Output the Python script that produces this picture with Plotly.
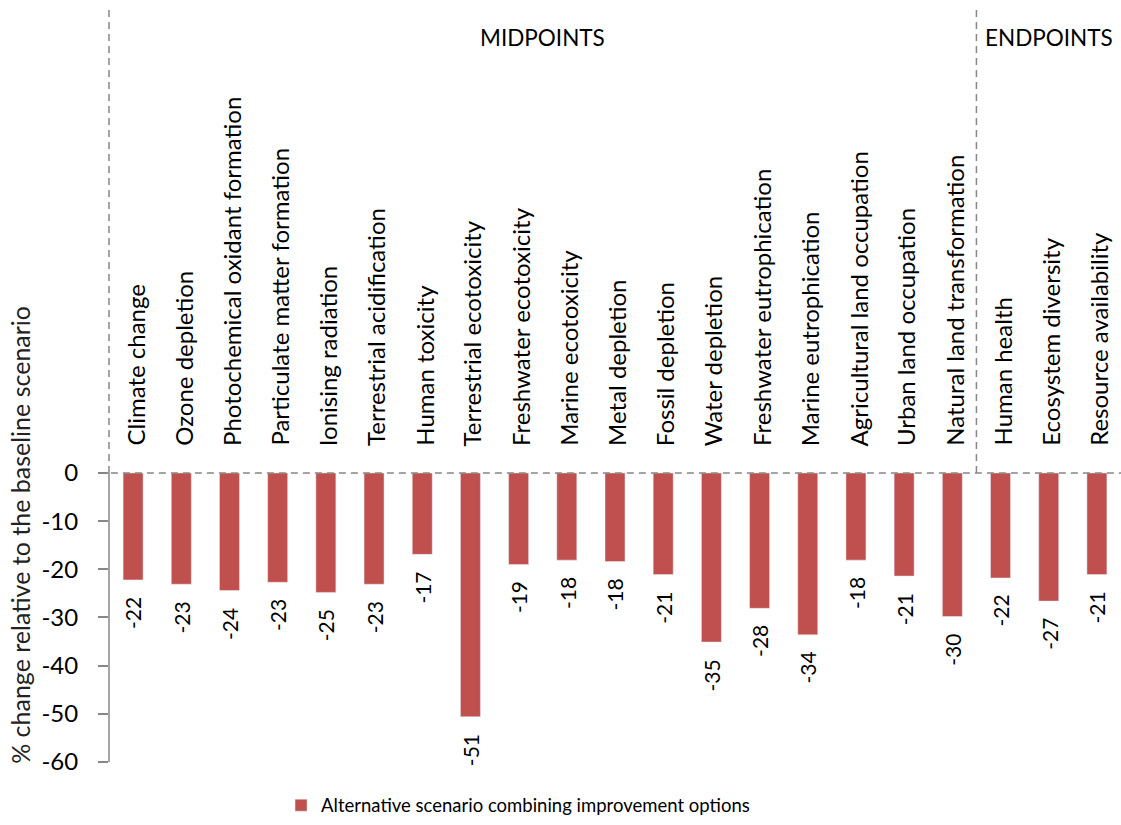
import plotly.graph_objects as go

categories = [
    "Climate change", "Ozone depletion", "Photochemical oxidant formation",
    "Particulate matter formation", "Ionising radiation", "Terrestrial acidification",
    "Human toxicity", "Terrestrial ecotoxicity", "Freshwater ecotoxicity",
    "Marine ecotoxicity", "Metal depletion", "Fossil depletion", "Water depletion",
    "Freshwater eutrophication", "Marine eutrophication", "Agricultural land occupation",
    "Urban land occupation", "Natural land transformation",
    "Human health", "Ecosystem diversity", "Resource availability",
]
values = [-22.2, -23.1, -24.4, -22.7, -24.8, -23.1, -16.9, -50.6, -19.0, -18.1,
          -18.4, -21.1, -35.1, -28.1, -33.6, -18.1, -21.4, -29.8, -21.8, -26.6, -21.1]
series_name = "Alternative scenario combining improvement options"
group_labels = ["MIDPOINTS", "ENDPOINTS"]
y_ticks = [0, -10, -20, -30, -40, -50, -60]
y_title = "% change relative to the baseline scenario"

FONT = "Lato"
BAR = "#C0504D"
GRAY = "#878787"

n = len(categories)
x_idx = list(range(n))
Y_TOP = 96.1
split = 17.5  # boundary between midpoints and endpoints

fig = go.Figure()
fig.add_trace(go.Bar(
    x=x_idx, y=values, name=series_name, marker_color=BAR, width=0.415,
    showlegend=True,
))

annotations = []
for i, (c, v) in enumerate(zip(categories, values)):
    annotations.append(dict(
        x=i, y=0, xref="x", yref="y", text=c, textangle=-90, showarrow=False,
        xanchor="center", yanchor="bottom", yshift=25, xshift=2,
        font=dict(family=FONT, size=24, color="black"),
    ))
    annotations.append(dict(
        x=i, y=v, xref="x", yref="y", text=f"{v:.0f}", textangle=-90, showarrow=False,
        xanchor="center", yanchor="top", yshift=-15,
        font=dict(family=FONT, size=21, color="black"),
    ))

annotations.append(dict(
    x=(-0.5 + split) / 2, y=0.963, xref="x", yref="paper", text=group_labels[0],
    showarrow=False, xanchor="center", yanchor="middle",
    font=dict(family=FONT, size=22.5, color="black"),
))
annotations.append(dict(
    x=(split + n - 0.5) / 2, y=0.963, xref="x", yref="paper", text=group_labels[1],
    showarrow=False, xanchor="center", yanchor="middle",
    font=dict(family=FONT, size=22.5, color="black"),
))
annotations.append(dict(
    x=-0.088, y=0.302, xref="paper", yref="paper", text=y_title, textangle=-90,
    showarrow=False, xanchor="center", yanchor="middle",
    font=dict(family=FONT, size=25, color="#222222"),
))

shapes = [
    # solid y axis line below zero
    dict(type="line", xref="paper", yref="y", x0=0, x1=0, y0=-60, y1=0,
         line=dict(color=GRAY, width=1.5)),
    # dashed y axis line above zero
    dict(type="line", xref="paper", yref="y", x0=0, x1=0, y0=0, y1=Y_TOP,
         line=dict(color=GRAY, width=1.5, dash="7px,5px")),
    # dashed separator between midpoints and endpoints
    dict(type="line", xref="x", yref="y", x0=split, x1=split, y0=0, y1=Y_TOP,
         line=dict(color=GRAY, width=1.5, dash="7px,5px")),
    # dashed zero line
    dict(type="line", xref="paper", yref="y", x0=-0.01, x1=1, y0=0, y1=0,
         line=dict(color=GRAY, width=1.5, dash="7px,5px")),
]

fig.update_layout(
    width=1121, height=825,
    margin=dict(l=109, r=0, t=10, b=63),
    paper_bgcolor="white", plot_bgcolor="white",
    font=dict(family=FONT, color="black"),
    bargap=0.59,
    xaxis=dict(range=[-0.5, n - 0.5], showticklabels=False, showgrid=False,
               zeroline=False, showline=False, ticks=""),
    yaxis=dict(range=[-60, Y_TOP], tickvals=y_ticks, ticktext=[str(t) for t in y_ticks],
               showgrid=False, zeroline=False, showline=False,
               ticks="outside", ticklen=10, tickwidth=1.5, tickcolor=GRAY,
               ticklabelstandoff=15,
               tickfont=dict(family=FONT, size=24, color="black")),
    legend=dict(orientation="h", x=0.17, y=-0.058, xanchor="left", yanchor="middle",
                font=dict(family=FONT, size=18.5, color="black"),
                bgcolor="rgba(0,0,0,0)"),
    shapes=shapes,
    annotations=annotations,
)

fig.write_html(
    "out.html",
    config={"displayModeBar": False},
    post_script="document.body.style.margin='0';document.body.style.overflow='hidden';",
)
